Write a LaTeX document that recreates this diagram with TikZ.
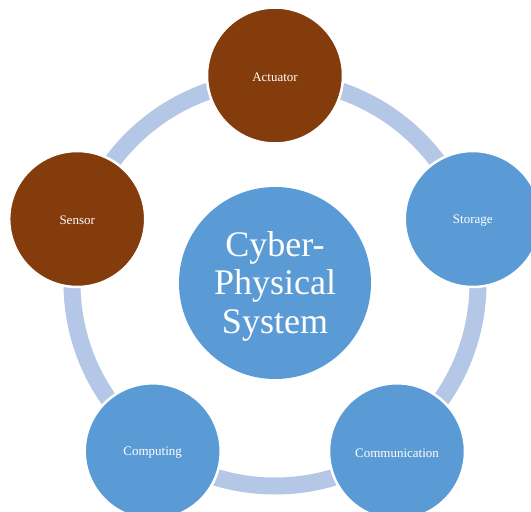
\documentclass[tikz,border=0pt]{standalone}
\usepackage{fontspec}
\setmainfont{Liberation Serif}
\definecolor{ringblue}{HTML}{B4C7E7}
\definecolor{cpsblue}{HTML}{5B9BD5}
\definecolor{cpsbrown}{HTML}{843C0C}
\newcommand{\lowlabel}[1]{\raisebox{0pt}[\dimexpr\height+3pt\relax][\depth]{#1}}
\begin{document}
\begin{tikzpicture}[x=1pt,y=-1pt,
  outer/.style={circle,draw=white,line width=2.5pt,minimum size=136pt,inner sep=0pt,text=white,font=\fontsize{13}{15}\selectfont},
  hub/.style={circle,fill=cpsblue,minimum size=192pt,inner sep=0pt},
  hubtext/.style={text=white,align=center,font=\fontsize{36}{38.5}\selectfont}]
\useasboundingbox (0,0) rectangle (531,512);
\clip (0,0) rectangle (531,512);
\coordinate (c) at (275,283);
\draw[ringblue,line width=17pt] (c) circle[radius=203];
\node[hub] (cps) at (c) {};
\node[hubtext] at (275,286) {Cyber-\\Physical\\System};
\node[outer,fill=cpsbrown] (act) at (275,75.5) {\lowlabel{Actuator}};
\node[outer,fill=cpsblue] (sto) at (472.8,219) {\lowlabel{Storage}};
\node[outer,fill=cpsblue] (com) at (397,451.3) {\lowlabel{Communication}};
\node[outer,fill=cpsblue] (cmp) at (152.7,451.3) {\lowlabel{Computing}};
\node[outer,fill=cpsbrown] (sen) at (77.2,219) {\lowlabel{Sensor}};
\end{tikzpicture}
\end{document}
